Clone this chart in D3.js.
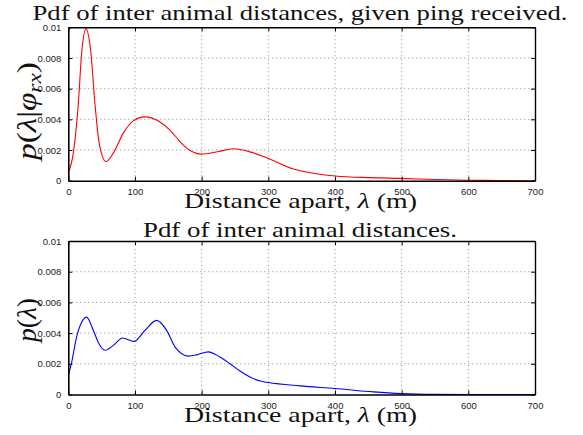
<!DOCTYPE html>
<html>
<head>
<meta charset="utf-8">
<script src="https://cdn.jsdelivr.net/npm/d3@7"></script>
<style>
  body { margin: 0; background: #fff; }
  svg { display: block; }
  .tick text { font-family: "Liberation Sans", Arial, Helvetica, sans-serif; font-size: 9.5px; fill: #222; }
</style>
</head>
<body>
<svg id="chart" width="583" height="435"></svg>
<script>
// --- data ---
const rxDist = [0, 7.5, 15, 20, 26.5, 33.5, 40, 46.5, 56.5, 67.5, 82.5, 97.5, 115, 137.5, 152.5, 166.5, 172.5, 200, 225, 247.5, 272.5, 300, 337.5, 362.5, 400, 452.5, 500, 550, 600, 650, 700];
const rxPdf = [0.00052, 0.0018, 0.005, 0.0083, 0.0099, 0.0085, 0.005, 0.0024, 0.00125, 0.0018, 0.0031, 0.0039, 0.00416, 0.00383, 0.0033, 0.0026, 0.00232, 0.00173, 0.0019, 0.00208, 0.00188, 0.00145, 0.00076, 0.00052, 0.00031, 0.0002, 0.00015, 0.00008, 0.00003, 0.00001, 0];

const allDist = [0, 5, 12.5, 20, 27.5, 37.5, 46, 55, 67.5, 81.5, 98.5, 115, 132.5, 147.5, 160, 180, 194, 210, 227.5, 242.5, 257.5, 272.5, 287.5, 300, 347.5, 400, 457.5, 500, 550, 600, 700];
const allPdf = [0.00125, 0.0021, 0.00375, 0.0047, 0.00504, 0.00418, 0.0033, 0.00288, 0.0032, 0.00368, 0.00346, 0.00418, 0.00483, 0.00418, 0.0031, 0.0025, 0.0026, 0.00278, 0.00244, 0.002, 0.00153, 0.00114, 0.00088, 0.00078, 0.00056, 0.00039, 0.00017, 0.00006, 0.00001, 0, 0];

const xTicks = [0, 100, 200, 300, 400, 500, 600, 700];
const yTicks = [0, 0.002, 0.004, 0.006, 0.008, 0.01];
const yTickLabels = ["0", "0.002", "0.004", "0.006", "0.008", "0.01"];

const serif = "'Liberation Serif', 'Times New Roman', Times, serif";

const svg = d3.select("#chart");
const left = 68.3, right = 535;

const x = d3.scaleLinear().domain([0, 700]).range([left, right]);

function drawPanel(top, bottom, xs, ys, color, title, titleY, titleLen) {
    const y = d3.scaleLinear().domain([0, 0.01]).range([bottom, top]);
    const g = svg.append("g");

    // dotted grid
    g.selectAll("line.gx").data(xTicks.slice(1, -1)).join("line")
        .attr("x1", d => x(d)).attr("x2", d => x(d))
        .attr("y1", top).attr("y2", bottom)
        .attr("stroke", "#888").attr("stroke-dasharray", "1,3");
    g.selectAll("line.gy").data(yTicks.slice(1, -1)).join("line")
        .attr("x1", left).attr("x2", right)
        .attr("y1", d => y(d)).attr("y2", d => y(d))
        .attr("stroke", "#888").attr("stroke-dasharray", "1,3");

    // curve
    const line = d3.line().x((d, i) => x(xs[i])).y(d => y(d)).curve(d3.curveMonotoneX);
    g.append("path").datum(ys).attr("d", line)
        .attr("fill", "none").attr("stroke", color).attr("stroke-width", 1.1);

    // axes with inward ticks, box
    g.append("g").attr("transform", `translate(0,${bottom})`)
        .call(d3.axisBottom(x).tickValues(xTicks).tickSizeInner(-4).tickSizeOuter(0).tickPadding(8))
        .call(a => a.select(".domain").attr("stroke-width", 1.6));
    g.append("g").attr("transform", `translate(0,${top})`)
        .call(d3.axisTop(x).tickValues(xTicks).tickSizeInner(-4).tickSizeOuter(0).tickFormat(""))
        .call(a => a.select(".domain").attr("stroke-width", 1.4));
    g.append("g").attr("transform", `translate(${left},0)`)
        .call(d3.axisLeft(y).tickValues(yTicks).tickSizeInner(-4).tickSizeOuter(0).tickPadding(7)
            .tickFormat((d, i) => yTickLabels[i]))
        .call(a => a.select(".domain").attr("stroke-width", 1.6));
    g.append("g").attr("transform", `translate(${right},0)`)
        .call(d3.axisRight(y).tickValues(yTicks).tickSizeInner(-4).tickSizeOuter(0).tickFormat(""))
        .call(a => a.select(".domain").attr("stroke-width", 1.4));

    // title
    g.append("text").style("font-family", serif).attr("fill", "#111")
        .attr("x", 300).attr("y", titleY).attr("text-anchor", "middle")
        .attr("font-size", 22).attr("textLength", titleLen).attr("lengthAdjust", "spacingAndGlyphs")
        .text(title);

    // x label
    const xl = g.append("text").style("font-family", serif).attr("fill", "#111")
        .attr("x", 300.5).attr("y", bottom + 27.5).attr("text-anchor", "middle")
        .attr("font-size", 22).attr("textLength", 233).attr("lengthAdjust", "spacingAndGlyphs");
    xl.append("tspan").text("Distance apart, ");
    xl.append("tspan").attr("font-style", "italic").text("λ");
    xl.append("tspan").text(" (m)");
    return g;
}

const g1 = drawPanel(27.3, 180.7, rxDist, rxPdf, "#ff0000",
    "Pdf of inter animal distances, given ping received.", 20, 535);
const g2 = drawPanel(241, 394.5, allDist, allPdf, "#0000ff",
    "Pdf of inter animal distances.", 236.5, 314);

// y labels (rotated)
const yl1 = g1.append("text").style("font-family", serif).attr("fill", "#111")
    .attr("transform", "translate(36,111) rotate(-90)").attr("text-anchor", "middle")
    .attr("font-size", 27).attr("textLength", 98).attr("lengthAdjust", "spacingAndGlyphs");
yl1.append("tspan").attr("font-style", "italic").text("p");
yl1.append("tspan").text("(");
yl1.append("tspan").attr("font-style", "italic").text("λ");
yl1.append("tspan").text("|");
yl1.append("tspan").attr("font-style", "italic").text("φ");
yl1.append("tspan").attr("font-style", "italic").attr("font-size", 19).attr("dy", 5).text("rx");
yl1.append("tspan").attr("dy", -5).text(")");

const yl2 = g2.append("text").style("font-family", serif).attr("fill", "#111")
    .attr("transform", "translate(36,320) rotate(-90)").attr("text-anchor", "middle")
    .attr("font-size", 27).attr("textLength", 44).attr("lengthAdjust", "spacingAndGlyphs");
yl2.append("tspan").attr("font-style", "italic").text("p");
yl2.append("tspan").text("(");
yl2.append("tspan").attr("font-style", "italic").text("λ");
yl2.append("tspan").text(")");
</script>
</body>
</html>
